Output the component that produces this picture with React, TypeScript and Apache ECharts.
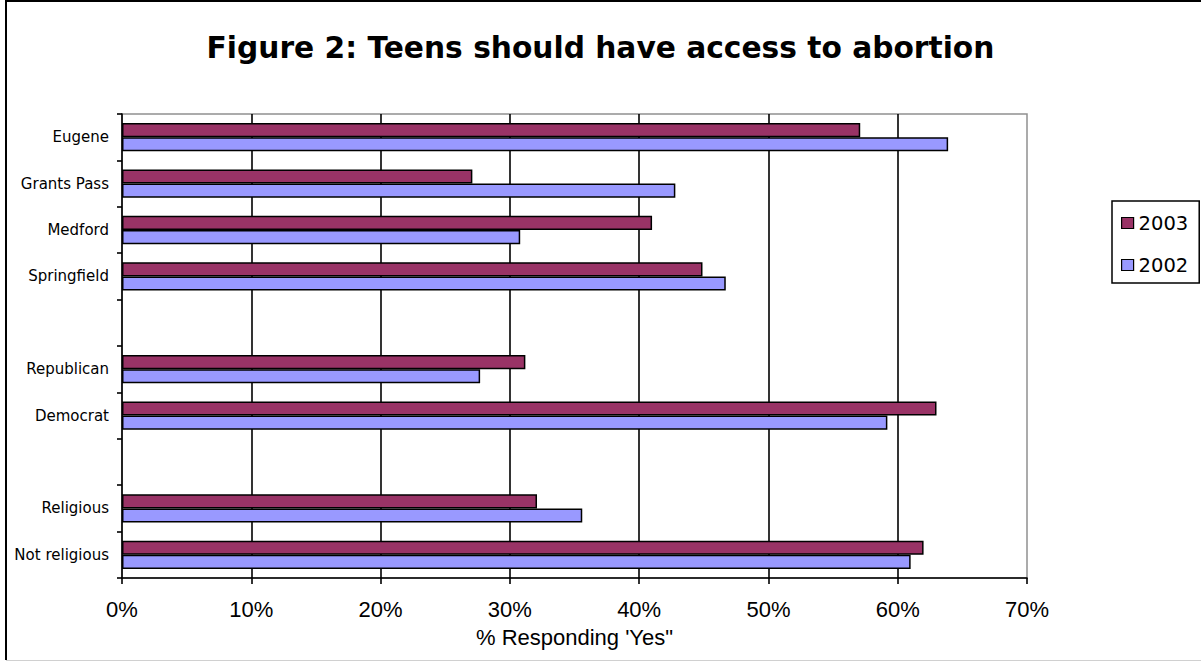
import React, { useEffect, useRef } from "react";
import * as echarts from "echarts";

const categories = [
  "Eugene",
  "Grants Pass",
  "Medford",
  "Springfield",
  " ",
  "Republican",
  "Democrat",
  "  ",
  "Religious",
  "Not religious",
];
const values2003 = [57.1, 27.1, 41.0, 44.9, null, 31.2, 63.0, null, 32.1, 62.0];
const values2002 = [63.9, 42.8, 30.8, 46.7, null, 27.7, 59.2, null, 35.6, 61.0];
const xTicks = [0, 10, 20, 30, 40, 50, 60, 70];
const titleText = "Figure 2: Teens should have access to abortion";
const xAxisTitle = "% Responding 'Yes\"";

export default function App() {
  const ref = useRef<HTMLDivElement>(null);
  useEffect(() => {
    document.body.style.margin = "0";
    const chart = echarts.init(ref.current!, null, { renderer: "svg" });
    chart.setOption({
      animation: false,
      backgroundColor: "#fff",
      title: {
        text: titleText,
        left: "center",
        top: 27,
        textStyle: {
          fontFamily: "DejaVu Sans",
          fontWeight: "bold",
          fontSize: 29.7,
          color: "#000",
        },
      },
      legend: {
        orient: "vertical",
        left: 1112,
        top: 201,
        padding: [12, 11, 8, 9],
        itemGap: 22,
        itemWidth: 12,
        itemHeight: 11,
        borderColor: "#000",
        borderWidth: 1.5,
        icon: "rect",
        itemStyle: { borderColor: "#000", borderWidth: 1.2 },
        textStyle: { fontFamily: "DejaVu Sans", fontSize: 19.5, color: "#000" },
        data: ["2003", "2002"],
      },
      grid: {
        left: 122,
        right: 174,
        top: 114,
        bottom: 84,
        show: true,
        borderColor: "#909090",
        borderWidth: 1.5,
        backgroundColor: "#fff",
      },
      xAxis: {
        type: "value",
        min: xTicks[0],
        max: xTicks[xTicks.length - 1],
        interval: 10,
        name: xAxisTitle,
        nameLocation: "middle",
        nameGap: 48,
        nameTextStyle: { fontFamily: "Liberation Sans", fontSize: 22, color: "#000" },
        axisLine: { show: true, lineStyle: { color: "#000", width: 1.6 } },
        axisTick: { show: true, length: 6, lineStyle: { color: "#000", width: 1.6 } },
        axisLabel: {
          formatter: "{value}%",
          fontFamily: "Liberation Sans",
          fontSize: 22,
          color: "#000",
          margin: 20,
        },
        splitLine: {
          show: true,
          showMinLine: false,
          showMaxLine: false,
          lineStyle: { color: "#000", width: 1.6 },
        },
      },
      yAxis: {
        type: "category",
        inverse: true,
        data: categories,
        axisLine: { show: true, lineStyle: { color: "#000", width: 1.6 } },
        axisTick: { show: true, length: 5, lineStyle: { color: "#000", width: 1.6 } },
        axisLabel: {
          fontFamily: "DejaVu Sans",
          fontSize: 15,
          color: "#000",
          margin: 13,
        },
        splitLine: { show: false },
      },
      series: [
        {
          name: "2003",
          type: "bar",
          data: values2003,
          barGap: "0%",
          barCategoryGap: "39%",
          itemStyle: { color: "#993366", borderColor: "#000", borderWidth: 1.5 },
        },
        {
          name: "2002",
          type: "bar",
          data: values2002,
          barGap: "0%",
          barCategoryGap: "39%",
          itemStyle: { color: "#9999FF", borderColor: "#000", borderWidth: 1.5 },
        },
      ],
      graphic: [
        {
          type: "line",
          shape: { x1: 6, y1: 1, x2: 1201, y2: 1 },
          style: { stroke: "#000", lineWidth: 2 },
        },
        {
          type: "line",
          shape: { x1: 6, y1: 0, x2: 6, y2: 660 },
          style: { stroke: "#000", lineWidth: 2 },
        },
        {
          type: "line",
          shape: { x1: 6, y1: 660.5, x2: 1201, y2: 660.5 },
          style: { stroke: "#d0d0d0", lineWidth: 1 },
        },
      ],
    });
    return () => chart.dispose();
  }, []);
  return <div ref={ref} style={{ width: 1201, height: 662 }} />;
}
